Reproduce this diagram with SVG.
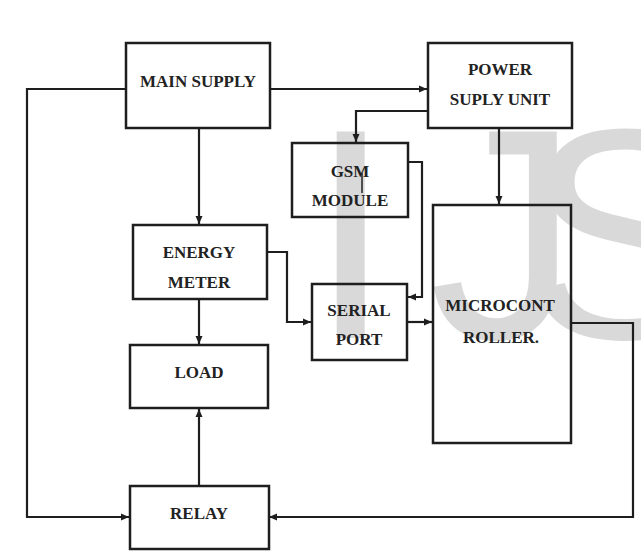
<svg xmlns="http://www.w3.org/2000/svg" width="641" height="558" viewBox="0 0 641 558">
<style>
.box{fill:none;stroke:#1e1e1e;stroke-width:2.5}
.lbl{font-family:"Liberation Serif","Times New Roman",serif;font-weight:bold;font-size:17px;fill:#222;text-anchor:middle}
.wire{fill:none;stroke:#1e1e1e;stroke-width:2.2}
.wm{font-family:"Liberation Sans",Arial,sans-serif;font-size:300px;fill:#d9d9d9}
</style>
<defs>
<marker id="arr" markerUnits="userSpaceOnUse" markerWidth="9" markerHeight="8" refX="8" refY="4" orient="auto">
<path d="M0,0.5 L8,4 L0,7.5 z" fill="#1e1e1e"/>
</marker>
</defs>
<rect width="641" height="558" fill="#fff"/>
<text class="wm" x="309 429 524" y="338">IJS</text>
<g id="connectors">
<path class="wire" d="M270,89 H427" marker-end="url(#arr)"/>
<path class="wire" d="M199,128 V224" marker-end="url(#arr)"/>
<path class="wire" d="M126,89 H27 V517 H129" marker-end="url(#arr)" stroke-width="2.8"/>
<path class="wire" d="M428,111 H356 V142" marker-end="url(#arr)"/>
<path class="wire" d="M499,128 V204" marker-end="url(#arr)"/>
<path class="wire" d="M408,162 H422 V297 H408" marker-end="url(#arr)"/>
<path class="wire" d="M267,252 H287 V322 H311" marker-end="url(#arr)"/>
<path class="wire" d="M407,322 H432" marker-end="url(#arr)"/>
<path class="wire" d="M199,299 V344" marker-end="url(#arr)"/>
<path class="wire" d="M571,323 H633 V517 H269" marker-end="url(#arr)" stroke-width="2.8"/>
<path class="wire" d="M199,486 V409" marker-end="url(#arr)"/>
</g>
<g id="main-supply">
<rect class="box" x="126" y="43" width="144" height="85"/>
<text class="lbl" x="198" y="87">MAIN SUPPLY</text>
</g>
<g id="power-supply-unit">
<rect class="box" x="428" y="43" width="144" height="85"/>
<text class="lbl" x="500" y="75">POWER</text>
<text class="lbl" x="500" y="105">SUPLY UNIT</text>
</g>
<g id="gsm-module">
<rect class="box" x="292" y="143" width="116" height="74"/>
<text class="lbl" x="350" y="177">GSM</text>
<text class="lbl" x="350" y="206">MODULE</text>
<line x1="362" y1="173" x2="362" y2="193" stroke="#222" stroke-width="1.5"/>
</g>
<g id="energy-meter">
<rect class="box" x="133" y="225" width="134" height="74"/>
<text class="lbl" x="199" y="258">ENERGY</text>
<text class="lbl" x="199" y="288">METER</text>
</g>
<g id="serial-port">
<rect class="box" x="312" y="284" width="95" height="76"/>
<text class="lbl" x="359" y="316">SERIAL</text>
<text class="lbl" x="359" y="345">PORT</text>
</g>
<g id="microcontroller">
<rect class="box" x="433" y="205" width="138" height="238" stroke-width="3"/>
<text class="lbl" x="500" y="311">MICROCONT</text>
<text class="lbl" x="501" y="343">ROLLER.</text>
</g>
<g id="load">
<rect class="box" x="130" y="345" width="138" height="63"/>
<text class="lbl" x="199" y="378">LOAD</text>
</g>
<g id="relay">
<rect class="box" x="130" y="486" width="139" height="63"/>
<text class="lbl" x="199" y="519">RELAY</text>
</g>
</svg>
